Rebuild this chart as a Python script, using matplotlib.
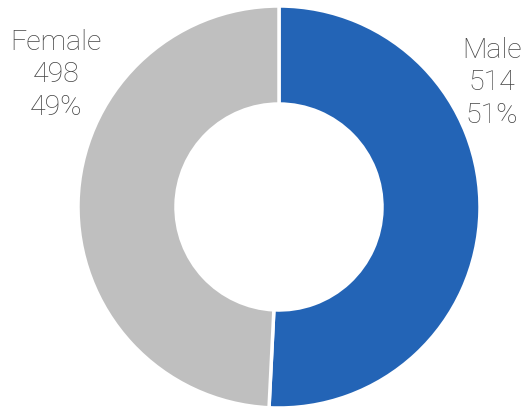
import matplotlib.pyplot as plt

labels = ["Male", "Female"]
counts = [514, 498]
colors = ["#2364B6", "#BFBFBF"]

W, H = 525, 407
fig = plt.figure(figsize=(W / 100, H / 100), dpi=100)

cx, cy, r_out, r_in = 279, 207, 201, 103
ax = fig.add_axes([(cx - r_out) / W, (H - cy - r_out) / H, 2 * r_out / W, 2 * r_out / H])
ax.pie(
    counts,
    colors=colors,
    startangle=90,
    counterclock=False,
    radius=1,
    wedgeprops=dict(width=(r_out - r_in) / r_out, edgecolor="white", linewidth=2.5),
)
ax.set_xlim(-1, 1)
ax.set_ylim(-1, 1)
ax.set_aspect("equal")
ax.axis("off")

total = sum(counts)
# label centres (pixels) of the middle line
label_pos = {"Male": (492, 83), "Female": (56, 75)}
for name, n in zip(labels, counts):
    x, y = label_pos[name]
    fig.text(
        x / W, 1 - y / H,
        f"{name}\n{n}\n{round(n / total * 100)}%",
        ha="center", va="center", fontsize=20.5, color="#444444",
        family="Roboto", fontweight="light", linespacing=1.28,
    )

fig.savefig("out.png", dpi=100)
